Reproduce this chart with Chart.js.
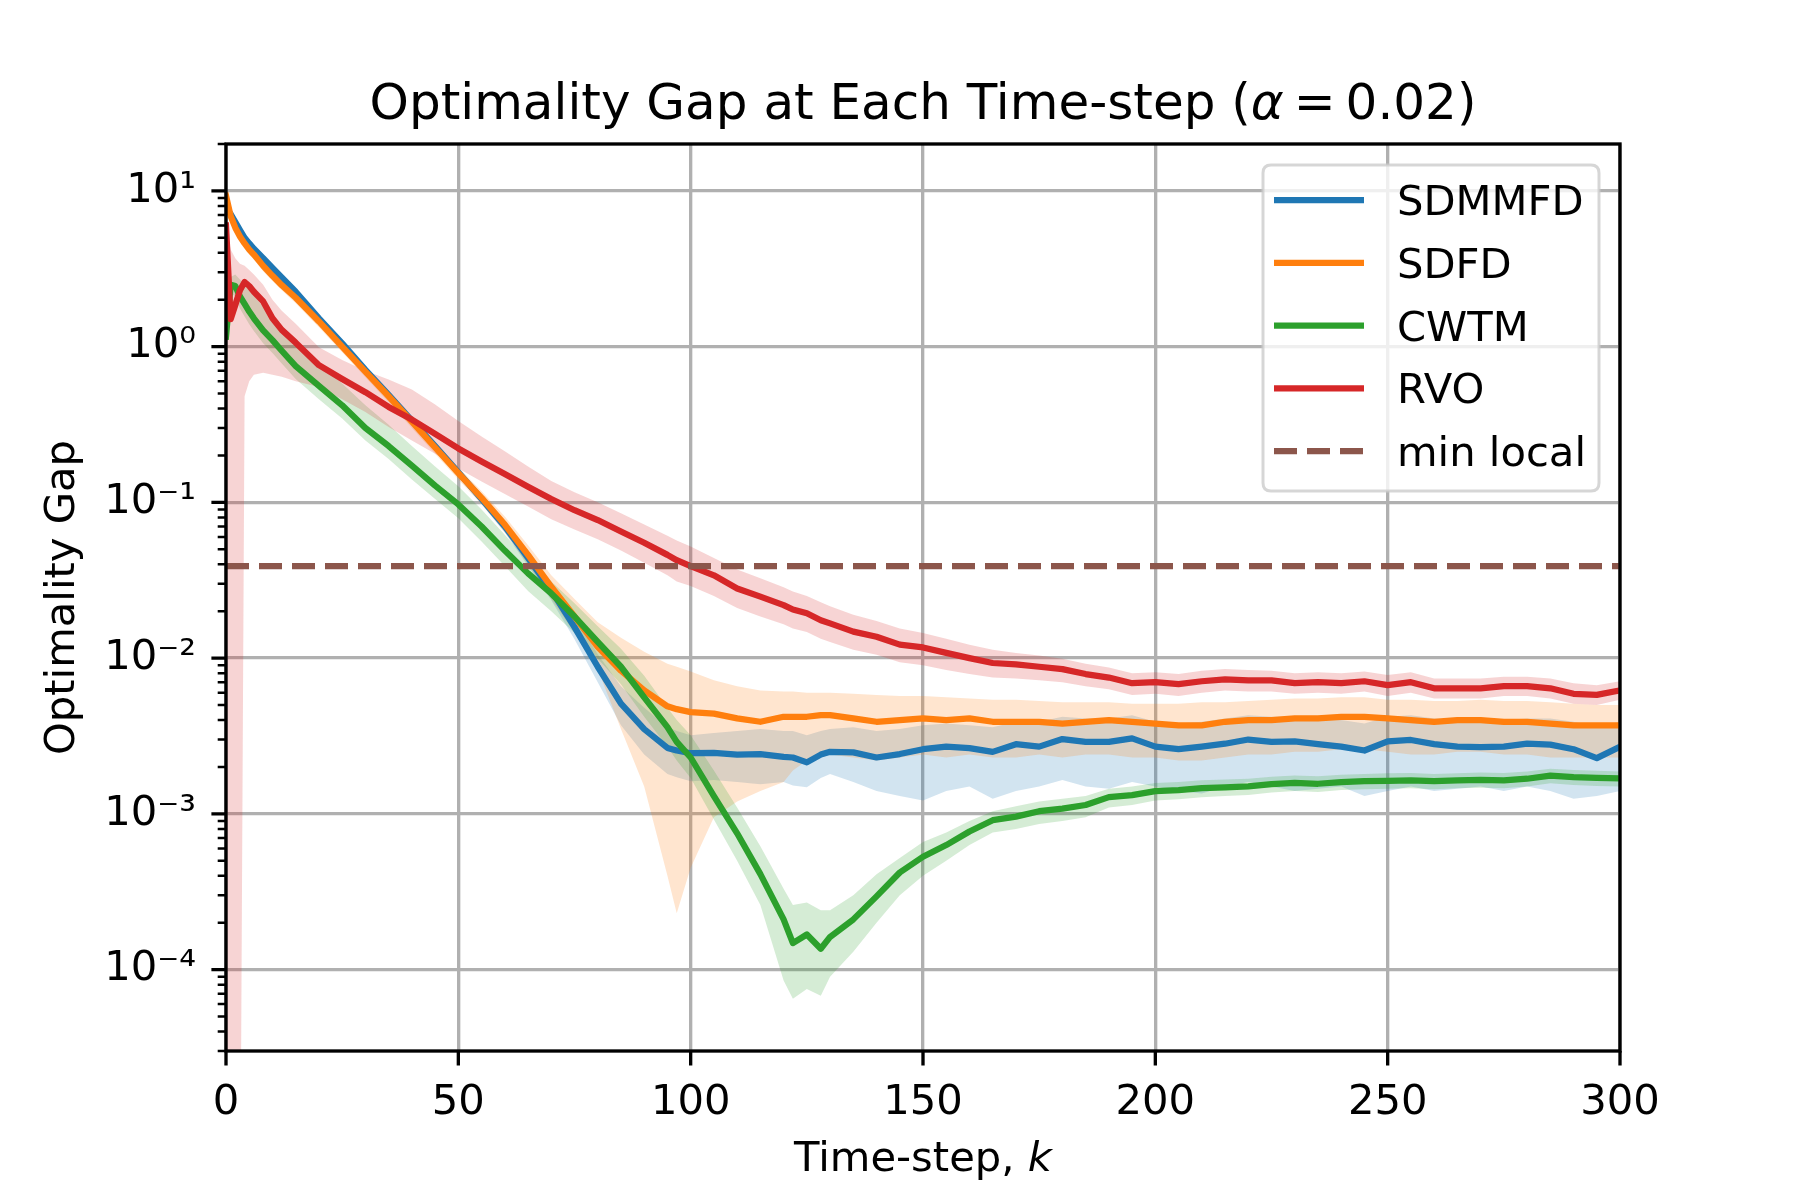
<!DOCTYPE html>
<html>
<head>
<meta charset="utf-8">
<script src="https://cdn.jsdelivr.net/npm/chart.js@4.4.1/dist/chart.umd.min.js"></script>
<style>
  html, body { margin: 0; padding: 0; background: #ffffff; }
  #wrap { width: 1800px; height: 1200px; }
</style>
</head>
<body>
<div id="wrap"><canvas id="c" width="1800" height="1200" style="width:1800px;height:1200px"></canvas></div>
<script>
// ---------------- data ----------------
const K = [0,1,2,3,4,5,6,8,10,12,
  15,20,25,30,35,40,45,50,55,60,
  65,70,75,80,85,90,95,97,100,105,
  110,115,120,122,125,128,130,135,140,145,
  150,155,160,165,170,175,180,185,190,195,
  200,205,210,215,220,225,230,235,240,245,
  250,255,260,265,270,275,280,285,290,295,
  300];

const sdmmfd = [7.7,7.1,6.3,5.6,5.0,4.6,4.25,3.7,3.2,2.78,
  2.25,1.52,1.05,0.71,0.49,0.335,0.23,0.156,0.105,0.07,
  0.044,0.0272,0.0158,0.0088,0.0051,0.0035,0.00265,0.00255,0.00245,0.00246,
  0.0024,0.00242,0.00232,0.0023,0.00214,0.0024,0.0025,0.00248,0.0023,0.00242,
  0.0026,0.0027,0.00264,0.0025,0.0028,0.0027,0.00302,0.0029,0.0029,0.00305,
  0.0027,0.0026,0.0027,0.00282,0.003,0.0029,0.00292,0.0028,0.0027,0.00255,
  0.00292,0.00298,0.0028,0.0027,0.00268,0.0027,0.00282,0.00278,0.0026,0.00228,
  0.0027];
const sdmmfdHi = [8.1,7.5,6.65,5.9,5.28,4.85,4.48,3.9,3.37,2.93,
  2.37,1.6,1.11,0.75,0.52,0.355,0.245,0.166,0.113,0.076,
  0.049,0.031,0.0185,0.0106,0.0066,0.0048,0.0036,0.0034,0.0032,0.0033,
  0.0034,0.0035,0.0034,0.0034,0.0032,0.0034,0.0035,0.0036,0.0034,0.0035,
  0.0037,0.0038,0.0037,0.0036,0.0039,0.0039,0.0042,0.0041,0.0041,0.0043,
  0.0039,0.0038,0.0039,0.0041,0.0043,0.0042,0.0042,0.0041,0.004,0.0038,
  0.0042,0.0043,0.0041,0.004,0.0039,0.004,0.0041,0.0041,0.0039,0.0036,
  0.0039];
const sdmmfdLo = [7.3,6.7,5.95,5.3,4.72,4.35,4.02,3.5,3.03,2.63,
  2.13,1.44,0.99,0.67,0.465,0.315,0.215,0.146,0.098,0.064,
  0.039,0.0235,0.0132,0.007,0.0037,0.0024,0.0018,0.00172,0.00162,0.00165,
  0.0016,0.00155,0.0016,0.00152,0.00148,0.0017,0.0018,0.0016,0.0014,0.0013,
  0.00122,0.0014,0.0015,0.00125,0.0014,0.0015,0.00165,0.0015,0.00145,0.0016,
  0.0015,0.0014,0.00135,0.0015,0.0016,0.0015,0.0014,0.00145,0.0015,0.0013,
  0.0014,0.0015,0.0014,0.00145,0.0015,0.0014,0.0015,0.0014,0.00125,0.0013,
  0.0014];

const sdfd = [9.3,6.9,5.8,5.1,4.6,4.2,3.9,3.3,2.85,2.48,
  2.06,1.45,1.0,0.69,0.48,0.33,0.225,0.154,0.107,0.072,
  0.046,0.0287,0.0185,0.0118,0.0083,0.0062,0.0049,0.0047,0.0045,0.0044,
  0.0041,0.0039,0.0042,0.0042,0.0042,0.0043,0.0043,0.0041,0.0039,0.004,
  0.0041,0.004,0.0041,0.0039,0.0039,0.0039,0.0038,0.0039,0.004,0.0039,
  0.0038,0.0037,0.0037,0.0039,0.004,0.004,0.0041,0.0041,0.0042,0.0042,
  0.0041,0.004,0.0039,0.004,0.004,0.0039,0.0039,0.0038,0.0037,0.0037,
  0.0037];
const sdfdHi = [9.8,7.4,6.2,5.45,4.9,4.5,4.18,3.55,3.06,2.66,
  2.22,1.57,1.09,0.75,0.52,0.36,0.245,0.168,0.118,0.081,
  0.053,0.034,0.024,0.017,0.0135,0.011,0.0092,0.0088,0.0082,0.0072,
  0.0066,0.0062,0.0061,0.0061,0.006,0.006,0.006,0.0059,0.0058,0.0057,
  0.0057,0.0056,0.0055,0.0054,0.0054,0.0053,0.0052,0.0052,0.0052,0.0051,
  0.0051,0.0051,0.0052,0.0052,0.0053,0.0054,0.0055,0.0055,0.0056,0.0056,
  0.0054,0.0054,0.0053,0.0053,0.0054,0.0053,0.0053,0.0052,0.0051,0.005,
  0.005];
const sdfdLo = [8.8,6.4,5.4,4.75,4.3,3.9,3.62,3.05,2.64,2.3,
  1.9,1.33,0.92,0.635,0.44,0.3,0.205,0.14,0.097,0.064,
  0.04,0.024,0.0145,0.0085,0.0035,0.0015,0.0004,0.00023,0.00045,0.00095,
  0.0012,0.0014,0.0016,0.0019,0.0022,0.0023,0.0024,0.0023,0.0022,0.0023,
  0.0024,0.0023,0.0024,0.0023,0.0023,0.0024,0.0023,0.0024,0.0024,0.0023,
  0.0023,0.0022,0.0022,0.0023,0.0024,0.0024,0.0025,0.0025,0.0026,0.0026,
  0.0025,0.0024,0.0024,0.0025,0.0025,0.0024,0.0024,0.0023,0.0023,0.0023,
  0.0023];

const cwtm = [1.16,2.5,2.45,2.1,1.88,1.68,1.52,1.27,1.1,0.94,
  0.75,0.56,0.42,0.3,0.23,0.172,0.128,0.097,0.07,0.049,
  0.035,0.026,0.0185,0.0127,0.0088,0.0056,0.0036,0.0029,0.0023,0.0013,
  0.00075,0.00041,0.00021,0.000148,0.000168,0.000136,0.000162,0.00021,0.000295,0.00042,
  0.00053,0.00063,0.00077,0.00091,0.00096,0.00104,0.00108,0.00114,0.00128,0.00132,
  0.0014,0.00142,0.00146,0.00148,0.0015,0.00155,0.00158,0.00156,0.0016,0.00162,
  0.00163,0.00164,0.00162,0.00164,0.00165,0.00164,0.00168,0.00176,0.00172,0.0017,
  0.00169];
const cwtmHi = [1.3,2.8,2.9,2.7,2.5,2.3,2.12,1.8,1.55,1.32,
  1.05,0.78,0.58,0.42,0.315,0.23,0.17,0.127,0.09,0.062,
  0.042,0.031,0.0225,0.016,0.0115,0.0077,0.0048,0.004,0.0032,0.0019,
  0.0011,0.00062,0.00033,0.00026,0.00027,0.00024,0.00024,0.0003,0.00041,0.00052,
  0.00066,0.00076,0.0009,0.00104,0.00112,0.0012,0.00125,0.0013,0.00145,0.0015,
  0.00158,0.0016,0.00164,0.00166,0.00168,0.00173,0.00176,0.00174,0.00178,0.0018,
  0.00182,0.00183,0.0018,0.00182,0.00184,0.00183,0.00187,0.00195,0.00191,0.00189,
  0.00187];
const cwtmLo = [1.0,2.2,2.1,1.76,1.56,1.39,1.26,1.05,0.91,0.78,
  0.62,0.46,0.345,0.25,0.19,0.14,0.105,0.079,0.056,0.039,
  0.027,0.02,0.0145,0.0099,0.0068,0.0042,0.0027,0.0022,0.0017,0.00092,
  0.0005,0.00026,0.000085,0.000065,0.000075,0.000068,0.00009,0.00013,0.0002,0.0003,
  0.0004,0.0005,0.00063,0.00076,0.0008,0.00086,0.0009,0.00095,0.0011,0.00114,
  0.00122,0.00124,0.00128,0.0013,0.00132,0.00137,0.0014,0.00138,0.00142,0.00144,
  0.00145,0.00146,0.00144,0.00146,0.00147,0.00146,0.0015,0.00157,0.00153,0.00151,
  0.0015];

const rvo = [6.0,1.5,1.85,2.3,2.6,2.45,2.25,1.95,1.52,1.28,
  1.06,0.76,0.62,0.51,0.41,0.34,0.275,0.222,0.183,0.152,
  0.126,0.105,0.089,0.077,0.065,0.055,0.046,0.0425,0.039,0.034,
  0.028,0.0248,0.0219,0.0205,0.0194,0.0175,0.0167,0.0148,0.0137,0.0122,
  0.0117,0.0108,0.01,0.0093,0.0091,0.0088,0.0085,0.0079,0.0075,0.0069,
  0.007,0.0068,0.0071,0.0073,0.0072,0.0072,0.0069,0.007,0.0069,0.0071,
  0.0067,0.007,0.0064,0.0064,0.0064,0.0066,0.0066,0.0064,0.0059,0.0058,
  0.0062];
const rvoHi = [6.3,4.2,3.7,3.4,3.3,3.1,2.9,2.5,2.0,1.7,
  1.4,0.99,0.82,0.7,0.615,0.53,0.425,0.333,0.265,0.213,
  0.17,0.137,0.116,0.1,0.085,0.072,0.061,0.057,0.052,0.044,
  0.037,0.0325,0.0285,0.0268,0.025,0.0228,0.0215,0.019,0.0173,0.0155,
  0.0145,0.0133,0.0122,0.0113,0.0108,0.0104,0.0099,0.0092,0.0087,0.008,
  0.0081,0.0079,0.0083,0.0085,0.0084,0.0083,0.008,0.0081,0.008,0.0082,
  0.0078,0.0081,0.0074,0.0074,0.0074,0.0076,0.0076,0.0074,0.0069,0.0067,
  0.0071];
const rvoLo = [1e-6,1e-6,1e-6,1e-6,0.48,0.6,0.66,0.68,0.66,0.64,
  0.6,0.55,0.46,0.38,0.305,0.25,0.205,0.165,0.136,0.113,
  0.094,0.078,0.067,0.058,0.049,0.041,0.034,0.031,0.029,0.025,
  0.021,0.0185,0.0165,0.0155,0.0147,0.0133,0.0127,0.0113,0.0105,0.0094,
  0.009,0.0084,0.0079,0.0075,0.0074,0.0072,0.007,0.0066,0.0063,0.0058,
  0.0059,0.0057,0.006,0.0062,0.0061,0.0061,0.0059,0.006,0.0059,0.0061,
  0.0057,0.006,0.0055,0.0055,0.0055,0.0057,0.0057,0.0055,0.0051,0.005,
  0.0054];

const minLocalValue = 0.039;
const minLocalK = [0, 300];

const xTicks = [0, 50, 100, 150, 200, 250, 300];
const yTicks = [1e-4, 1e-3, 1e-2, 1e-1, 1, 10];
const yTickLabels = ['10\u207B\u2074', '10\u207B\u00B3', '10\u207B\u00B2', '10\u207B\u00B9', '10\u2070', '10\u00B9'];
const seriesNames = ['SDMMFD', 'SDFD', 'CWTM', 'RVO', 'min local'];
const titleMain = 'Optimality Gap at Each Time-step (';
const xLabel = 'Time-step, ';
const yLabel = 'Optimality Gap';

// ---------------- styling ----------------
const COL = { blue: '#1f77b4', orange: '#ff7f0e', green: '#2ca02c', red: '#d62728', brown: '#8c564b' };
const FILL = {
  blue: 'rgba(31,119,180,0.2)', orange: 'rgba(255,127,14,0.2)',
  green: 'rgba(44,160,44,0.2)', red: 'rgba(214,39,40,0.2)'
};
const FONT = 'DejaVu Sans';
const LW = 6.25;

function pts(vals) { return K.map((k, i) => ({ x: k, y: vals[i] })); }

function band(hi, lo, fill, order) {
  return [
    { data: pts(hi), borderWidth: 0, pointRadius: 0, fill: false, order: order, borderColor: 'rgba(0,0,0,0)', clip: 0 },
    { data: pts(lo), borderWidth: 0, pointRadius: 0, fill: '-1', backgroundColor: fill, order: order, borderColor: 'rgba(0,0,0,0)', clip: 0 }
  ];
}
function line(vals, color, order, label) {
  return { label: label, data: pts(vals), borderColor: color, borderWidth: LW, pointRadius: 0, fill: false,
           tension: 0, borderJoinStyle: 'round', borderCapStyle: 'square', order: order, clip: 0 };
}

const datasets = [
  ...band(sdmmfdHi, sdmmfdLo, FILL.blue, 100),
  ...band(sdfdHi, sdfdLo, FILL.orange, 99),
  ...band(cwtmHi, cwtmLo, FILL.green, 98),
  ...band(rvoHi, rvoLo, FILL.red, 97),
  line(sdmmfd, COL.blue, 5, seriesNames[0]),
  line(sdfd, COL.orange, 4, seriesNames[1]),
  line(cwtm, COL.green, 3, seriesNames[2]),
  line(rvo, COL.red, 2, seriesNames[3]),
  { label: seriesNames[4], data: minLocalK.map(k => ({ x: k, y: minLocalValue })), borderColor: COL.brown,
    borderWidth: LW, borderDash: [23, 10], borderCapStyle: 'butt', pointRadius: 0, fill: false, order: 1, clip: 0 }
];

const legendItems = [
  { name: seriesNames[0], color: COL.blue, dash: [] },
  { name: seriesNames[1], color: COL.orange, dash: [] },
  { name: seriesNames[2], color: COL.green, dash: [] },
  { name: seriesNames[3], color: COL.red, dash: [] },
  { name: seriesNames[4], color: COL.brown, dash: [23, 10] }
];

const decor = {
  id: 'decor',
  afterDraw(chart) {
    const ctx = chart.ctx;
    const a = chart.chartArea;
    const xs = chart.scales.x, ys = chart.scales.y;
    ctx.save();
    // tick marks
    ctx.strokeStyle = '#000';
    ctx.lineWidth = 3.33;
    ctx.lineCap = 'butt';
    ctx.beginPath();
    xTicks.forEach(v => { const p = xs.getPixelForValue(v); ctx.moveTo(p, a.bottom); ctx.lineTo(p, a.bottom + 14.6); });
    yTicks.forEach(v => { const p = ys.getPixelForValue(v); ctx.moveTo(a.left, p); ctx.lineTo(a.left - 14.6, p); });
    ctx.stroke();
    ctx.lineWidth = 2.5;
    ctx.beginPath();
    for (let e = -5; e <= 1; e++) {
      for (let m = 2; m <= 9; m++) {
        const v = m * Math.pow(10, e);
        if (v < ys.min || v > ys.max) continue;
        const p = ys.getPixelForValue(v);
        ctx.moveTo(a.left, p); ctx.lineTo(a.left - 8.3, p);
      }
    }
    ctx.stroke();
    // spines
    ctx.lineWidth = 3.33;
    ctx.lineJoin = 'miter';
    ctx.strokeRect(a.left, a.top, a.right - a.left, a.bottom - a.top);

    // title
    const cx = (a.left + a.right) / 2;
    ctx.fillStyle = '#000';
    ctx.textBaseline = 'alphabetic';
    ctx.textAlign = 'left';
    const fN = '50px "' + FONT + '"', fI = 'italic 50px "' + FONT + '"';
    ctx.font = fN; const w1 = ctx.measureText(titleMain).width;
    ctx.font = fI; const w2 = ctx.measureText('\u03B1').width;
    ctx.font = fN; const t3 = '\u2009=\u20090.02)'; const w3 = ctx.measureText(t3).width;
    let tx = cx - (w1 + w2 + w3) / 2;
    const ty = 119;
    ctx.font = fN; ctx.fillText(titleMain, tx, ty); tx += w1;
    ctx.font = fI; ctx.fillText('\u03B1', tx, ty); tx += w2;
    ctx.font = fN; ctx.fillText(t3, tx, ty);

    // x label
    const lN = '41.7px "' + FONT + '"', lI = 'italic 41.7px "' + FONT + '"';
    ctx.font = lN; const xw1 = ctx.measureText(xLabel).width;
    ctx.font = lI; const xw2 = ctx.measureText('k').width;
    let lx = cx - (xw1 + xw2) / 2;
    ctx.font = lN; ctx.fillText(xLabel, lx, 1171);
    ctx.font = lI; ctx.fillText('k', lx + xw1, 1171);

    // y label
    ctx.save();
    ctx.translate(74, (a.top + a.bottom) / 2);
    ctx.rotate(-Math.PI / 2);
    ctx.font = lN; ctx.textAlign = 'center';
    ctx.fillText(yLabel, 0, 0);
    ctx.restore();

    // legend
    const L = 1263, T = 165, R = 1599, B = 491, rad = 8;
    ctx.beginPath();
    ctx.moveTo(L + rad, T); ctx.lineTo(R - rad, T); ctx.quadraticCurveTo(R, T, R, T + rad);
    ctx.lineTo(R, B - rad); ctx.quadraticCurveTo(R, B, R - rad, B);
    ctx.lineTo(L + rad, B); ctx.quadraticCurveTo(L, B, L, B - rad);
    ctx.lineTo(L, T + rad); ctx.quadraticCurveTo(L, T, L + rad, T);
    ctx.closePath();
    ctx.fillStyle = 'rgba(255,255,255,0.8)';
    ctx.fill();
    ctx.strokeStyle = 'rgba(204,204,204,0.8)';
    ctx.lineWidth = 3;
    ctx.stroke();
    legendItems.forEach((it, i) => {
      const y = 200 + i * 62.75;
      ctx.beginPath();
      ctx.setLineDash(it.dash);
      ctx.strokeStyle = it.color;
      ctx.lineWidth = LW;
      ctx.lineCap = 'butt';
      ctx.moveTo(1274, y); ctx.lineTo(1364, y);
      ctx.stroke();
      ctx.setLineDash([]);
      ctx.fillStyle = '#000';
      ctx.font = lN; ctx.textAlign = 'left';
      ctx.fillText(it.name, 1397, y + 15);
    });
    ctx.restore();
  }
};

new Chart(document.getElementById('c'), {
  type: 'line',
  data: { datasets: datasets },
  options: {
    responsive: false,
    devicePixelRatio: 1,
    animation: false,
    events: [],
    layout: { padding: { top: 144, right: 180, bottom: 0, left: 0 } },
    plugins: { legend: { display: false }, title: { display: false }, tooltip: { enabled: false } },
    scales: {
      x: {
        type: 'linear', min: 0, max: 300,
        afterBuildTicks: s => { s.ticks = xTicks.map(v => ({ value: v })); },
        afterFit: s => { s.height = 149; },
        ticks: { autoSkip: false, maxRotation: 0, padding: 27, color: '#000',
                 font: { family: FONT, size: 41.7 }, callback: v => String(v) },
        grid: { color: '#b0b0b0', lineWidth: 3.33, drawTicks: false },
        border: { display: false }
      },
      y: {
        type: 'logarithmic', min: 3e-5, max: 20,
        afterBuildTicks: s => { s.ticks = yTicks.map(v => ({ value: v })); },
        afterFit: s => { s.width = 226; },
        ticks: { autoSkip: false, padding: 30, color: '#000',
                 font: { family: FONT, size: 41.7 },
                 callback: v => { const i = yTicks.findIndex(t => Math.abs(Math.log10(t) - Math.log10(v)) < 1e-6); return i >= 0 ? yTickLabels[i] : ''; } },
        grid: { color: '#b0b0b0', lineWidth: 3.33, drawTicks: false },
        border: { display: false }
      }
    }
  },
  plugins: [decor]
});
</script>
</body>
</html>
